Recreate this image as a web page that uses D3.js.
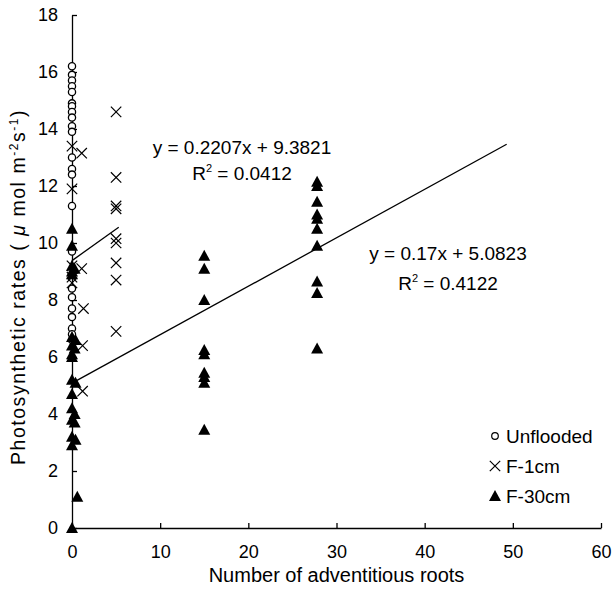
<!DOCTYPE html>
<html>
<head>
<meta charset="utf-8">
<script src="https://cdn.jsdelivr.net/npm/d3@7"></script>
<style>
  html, body { margin: 0; padding: 0; background: #fff; }
  svg { display: block; font-family: "Liberation Sans", Arial, Helvetica, sans-serif; }
</style>
</head>
<body>
<svg id="chart" width="613" height="598"></svg>
<script>
// ---- data ----
const xTicks = [0, 10, 20, 30, 40, 50, 60];
const yTicks = [0, 2, 4, 6, 8, 10, 12, 14, 16, 18];

const unfloodedX = [0,0,0,0,0,0,0,0,0,0,0,0,0,0,0,0,0,0,0,0,0,0,0];
const unfloodedY = [16.2,15.9,15.7,15.5,15.3,14.9,14.8,14.6,14.4,14.1,13.9,13.0,12.6,12.4,11.3,9.7,8.4,8.1,7.7,7.4,7.0,6.8,6.6];

const f1X = [0,1.1,0,0,1.1,0,0,1.3,1.2,1.2,5,5,5,5,5,5,5,5,5];
const f1Y = [13.4,13.15,11.9,9.2,9.1,8.8,8.6,7.7,6.4,4.8,14.6,12.3,11.3,11.2,10.15,10.0,9.3,8.7,6.9];

const f30X = [0,0,0,0,0.3,0,0,0.4,0,0.3,0,0,0,0.4,0,0,0.3,0,0.3,0,0.4,0,0.6,0,
              15,15,15,15,15,15,15,15,15,
              27.8,27.8,27.8,27.8,27.8,27.8,27.8,27.8,27.8,27.8];
const f30Y = [10.5,9.9,9.2,9.0,9.1,8.9,6.7,6.6,6.4,6.3,6.1,6.0,5.2,5.1,4.7,4.2,4.0,3.8,3.7,3.2,3.1,2.9,1.1,0,
              9.55,9.1,8.0,6.25,6.1,5.45,5.3,5.1,3.45,
              12.15,12.0,11.45,11.0,10.85,10.5,9.9,8.65,8.25,6.3];

const trend1 = { slope: 0.2207, intercept: 9.3821, x0: 0, x1: 5.3, eq: "y = 0.2207x + 9.3821", r2: "0.0412" };
const trend2 = { slope: 0.17, intercept: 5.0823, x0: 0, x1: 49.3, eq: "y = 0.17x + 5.0823", r2: "0.4122" };

const legendLabels = ["Unflooded", "F-1cm", "F-30cm"];

// ---- layout ----
const svg = d3.select("#chart");
const L = 72, R = 601, T = 15, B = 528;
const x = d3.scaleLinear().domain([0, 60]).range([L, R]);
const y = d3.scaleLinear().domain([0, 18]).range([B, T]);

const ink = "#000";

// axes
const xAxis = d3.axisBottom(x).tickValues(xTicks).tickSizeInner(-5).tickSizeOuter(0).tickPadding(17);
const yAxis = d3.axisLeft(y).tickValues(yTicks).tickSizeInner(-5).tickSizeOuter(0).tickPadding(14);

const gx = svg.append("g").attr("transform", `translate(0,${B})`).call(xAxis);
const gy = svg.append("g").attr("transform", `translate(${L},0)`).call(yAxis);
[gx, gy].forEach(g => {
  g.select(".domain").attr("stroke", ink).attr("stroke-width", 1.3);
  g.selectAll(".tick line").attr("stroke", ink).attr("stroke-width", 1.3);
  g.selectAll(".tick text").attr("font-size", 18).attr("fill", ink)
    .attr("font-family", '"Liberation Sans", Arial, sans-serif');
});
gx.selectAll(".tick text").attr("dy", "0.71em");

// axis labels
svg.append("text")
  .attr("x", (L + R) / 2).attr("y", 582)
  .attr("text-anchor", "middle").attr("font-size", 20).attr("fill", ink)
  .text("Number of adventitious roots");

const yl = svg.append("text")
  .attr("text-anchor", "start").attr("font-size", 19.5).attr("fill", ink);
yl.append("tspan").text("Photosynthetic rates ( ");
yl.append("tspan").attr("font-style", "italic").text("μ");
yl.append("tspan").text(" mol m");
yl.append("tspan").attr("font-size", 12).attr("dy", -7).text("-2");
yl.append("tspan").attr("dy", 7).text("s");
yl.append("tspan").attr("font-size", 12).attr("dy", -7).text("-1");
yl.append("tspan").attr("dy", 7).text(")");
const nChars = yl.text().length;
const baseLen = yl.node().getComputedTextLength();
const targetLen = 356;
yl.attr("letter-spacing", Math.max(0, (targetLen - baseLen) / nChars));
const ylLen = yl.node().getComputedTextLength();
yl.attr("transform", `translate(25,${287 + ylLen / 2}) rotate(-90)`);

// trend lines
[trend1, trend2].forEach(t => {
  svg.append("line")
    .attr("x1", x(t.x0)).attr("y1", y(t.slope * t.x0 + t.intercept))
    .attr("x2", x(t.x1)).attr("y2", y(t.slope * t.x1 + t.intercept))
    .attr("stroke", ink).attr("stroke-width", 1.3);
});

// markers
const circleG = svg.append("g");
unfloodedX.forEach((xv, i) => {
  circleG.append("circle")
    .attr("cx", x(xv)).attr("cy", y(unfloodedY[i])).attr("r", 3.6)
    .attr("fill", "#fff").attr("stroke", ink).attr("stroke-width", 1.3);
});

const crossPath = s => `M${-s},${-s}L${s},${s}M${-s},${s}L${s},${-s}`;
const crossG = svg.append("g");
f1X.forEach((xv, i) => {
  crossG.append("path")
    .attr("transform", `translate(${x(xv)},${y(f1Y[i])})`)
    .attr("d", crossPath(5.2))
    .attr("fill", "none").attr("stroke", ink).attr("stroke-width", 1.2);
});

const triPath = "M0,-6L6,5L-6,5Z";
const triG = svg.append("g");
f30X.forEach((xv, i) => {
  triG.append("path")
    .attr("transform", `translate(${x(xv)},${y(f30Y[i])})`)
    .attr("d", triPath).attr("fill", ink);
});

// trend annotations
function annot(t, cx, cy1, cy2) {
  svg.append("text").attr("x", cx).attr("y", cy1).attr("text-anchor", "middle")
    .attr("font-size", 19).attr("fill", ink).text(t.eq);
  const r = svg.append("text").attr("x", cx).attr("y", cy2).attr("text-anchor", "middle")
    .attr("font-size", 19).attr("fill", ink);
  r.append("tspan").text("R");
  r.append("tspan").attr("font-size", 11).attr("dy", -8).text("2");
  r.append("tspan").attr("dy", 8).text(" = " + t.r2);
}
annot(trend1, 242, 154, 180);
annot(trend2, 448, 260, 290);

// legend
const lg = svg.append("g");
const lx = 495, ly = [436, 466, 496];
lg.append("circle").attr("cx", lx).attr("cy", ly[0]).attr("r", 3.3)
  .attr("fill", "#fff").attr("stroke", ink).attr("stroke-width", 1.2);
lg.append("path").attr("transform", `translate(${lx},${ly[1]})`).attr("d", crossPath(5.2))
  .attr("fill", "none").attr("stroke", ink).attr("stroke-width", 1.2);
lg.append("path").attr("transform", `translate(${lx},${ly[2]})`).attr("d", triPath).attr("fill", ink);
legendLabels.forEach((t, i) => {
  lg.append("text").attr("x", lx + 11).attr("y", ly[i]).attr("dy", "0.36em")
    .attr("font-size", 19).attr("fill", ink).text(t);
});
</script>
</body>
</html>
